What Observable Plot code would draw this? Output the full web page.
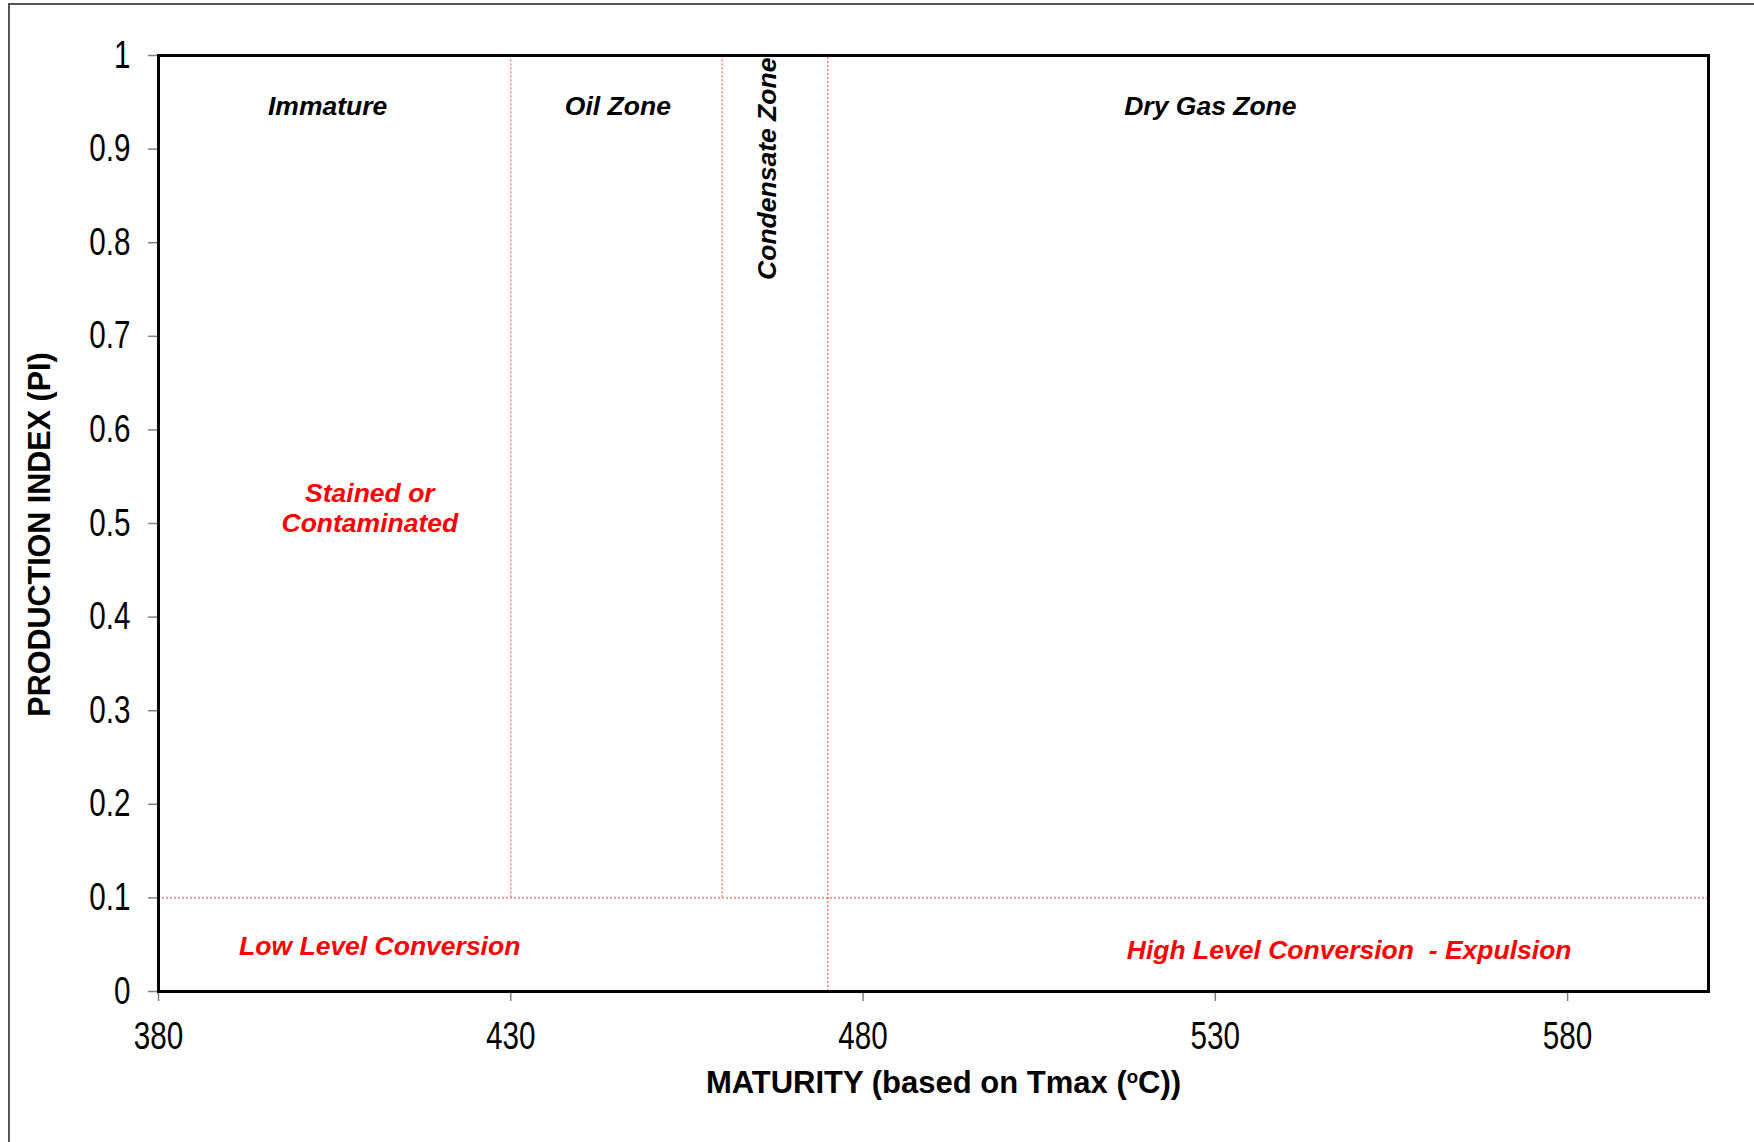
<!DOCTYPE html>
<html>
<head>
<meta charset="utf-8">
<script src="https://cdn.jsdelivr.net/npm/d3@7"></script>
<script src="https://cdn.jsdelivr.net/npm/@observablehq/plot@0.6"></script>
<style>
  html, body { margin: 0; padding: 0; background: white; }
  #wrap { position: relative; width: 1754px; height: 1142px; overflow: hidden; }
  #border { position: absolute; left: 8px; top: 3px; right: -4px; bottom: -4px;
            border-left: 2px solid #555; border-top: 2px solid #555; pointer-events: none; }
  #chart { position: absolute; left: 0; top: 0; }
</style>
</head>
<body>
<div id="wrap"><div id="chart"></div><div id="border"></div></div>
<script>
// ---- data ----
const xDomain = [380, 600];
const yDomain = [0, 1];
const xTicks = [380, 430, 480, 530, 580];
const yTicks = [0, 0.1, 0.2, 0.3, 0.4, 0.5, 0.6, 0.7, 0.8, 0.9, 1];
const yTickLabels = ["0", "0.1", "0.2", "0.3", "0.4", "0.5", "0.6", "0.7", "0.8", "0.9", "1"];

// zone boundaries (Tmax, °C) and the PI level at which each boundary starts
const boundaryTmax = [430, 460, 475];
const boundaryFromPI = [0.1, 0.1, 0];
const piThreshold = [0.1];

// zone names (black) and their anchor points
const zoneNames = ["Immature", "Oil Zone", "Dry Gas Zone"];
const zoneX = [404, 445.2, 529.3];
const zoneY = [0.946, 0.946, 0.946];
const condensateName = ["Condensate Zone"];
const condensateX = [466.5];
const condensateY = [0.879];

// interpretation labels (red)
const noteTexts = ["Stained or\nContaminated", "Low Level Conversion", "High Level Conversion \u00a0- Expulsion"];
const noteX = [410, 411.4, 549];
const noteY = [0.517, 0.049, 0.045];

const xLabel = "MATURITY (based on Tmax (oC))";
const yLabel = "PRODUCTION INDEX (PI)";

// ---- build ----
const boundaries = boundaryTmax.map((t, i) => ({t, from: boundaryFromPI[i]}));
const zones = zoneNames.map((n, i) => ({n, x: zoneX[i], y: zoneY[i]}));
const cond = condensateName.map((n, i) => ({n, x: condensateX[i], y: condensateY[i]}));
const notes = noteTexts.map((n, i) => ({n, x: noteX[i], y: noteY[i]}));

const redLine = {stroke: "#ff0000", strokeOpacity: 0.75, strokeWidth: 1, strokeDasharray: "2,2"};
const baseFont = "'Liberation Sans', Arial, sans-serif";
const boldIt = {fontFamily: baseFont, fontSize: 26.5, fontWeight: "bold", fontStyle: "italic", lineAnchor: "middle"};

const chart = Plot.plot({
  width: 1754,
  height: 1142,
  marginLeft: 158,
  marginRight: 46,
  marginTop: 55,
  marginBottom: 151,
  style: {fontFamily: baseFont, background: "white", color: "black"},
  x: {domain: xDomain},
  y: {domain: yDomain},
  marks: [
    Plot.ruleY(piThreshold, redLine),
    Plot.ruleX(boundaries, {x: "t", y1: "from", y2: 1, ...redLine}),
    Plot.axisX({ticks: xTicks, tickSize: 10, tickPadding: 21, stroke: "#808080", strokeWidth: 1.5,
                fontSize: 38, fill: "black", label: null}),
    Plot.axisY({ticks: yTicks, tickFormat: d => yTickLabels[yTicks.indexOf(d)], tickSize: 10, tickPadding: 18,
                stroke: "#808080", strokeWidth: 1.5, fontSize: 38, fill: "black", label: null}),
    Plot.frame({stroke: "black", strokeWidth: 3}),
    Plot.text(zones, {x: "x", y: "y", text: "n", fill: "black", ...boldIt}),
    Plot.text(cond, {x: "x", y: "y", text: "n", fill: "black", rotate: -90, ...boldIt}),
    Plot.text(notes, {x: "x", y: "y", text: "n", fill: "#ff0000", lineHeight: 1.13, ...boldIt}),
    Plot.text([xLabel], {text: d => d, frameAnchor: "bottom", dx: 10, dy: 92, lineAnchor: "middle", textAnchor: "middle",
                         fontSize: 31, fontWeight: "bold", fill: "black"}),
    Plot.text([yLabel], {text: d => d, frameAnchor: "left", dx: -118, dy: 11, rotate: -90, lineAnchor: "middle",
                         textAnchor: "middle", fontSize: 30.5, fontWeight: "bold", fill: "black"})
  ]
});

document.getElementById("chart").appendChild(chart);

// superscript "o" in the x-axis title
d3.select(chart).selectAll("text").filter(function() { return this.textContent === xLabel; })
  .each(function() {
    const t = d3.select(this);
    t.text("MATURITY (based on Tmax (");
    t.append("tspan").attr("baseline-shift", "super").attr("font-size", "0.6em").text("o");
    t.append("tspan").text("C))");
  });

// tick labels in the reference are horizontally condensed: squeeze each one about its anchor
const squeeze = 0.78;
function condense(groupLabel, anchor) {
  d3.select(chart).selectAll(`g[aria-label="${groupLabel}"] text`).each(function() {
    const parent = this.parentNode;
    const g = document.createElementNS("http://www.w3.org/2000/svg", "g");
    parent.insertBefore(g, this);
    g.appendChild(this);
    const b = g.getBBox();
    const ax = anchor === "end" ? b.x + b.width : b.x + b.width / 2;
    const ay = b.y + b.height / 2;
    g.setAttribute("transform", `translate(${ax},${ay}) scale(${squeeze},1) translate(${-ax},${-ay})`);
  });
}
condense("x-axis tick label", "middle");
condense("y-axis tick label", "end");
</script>
</body>
</html>
